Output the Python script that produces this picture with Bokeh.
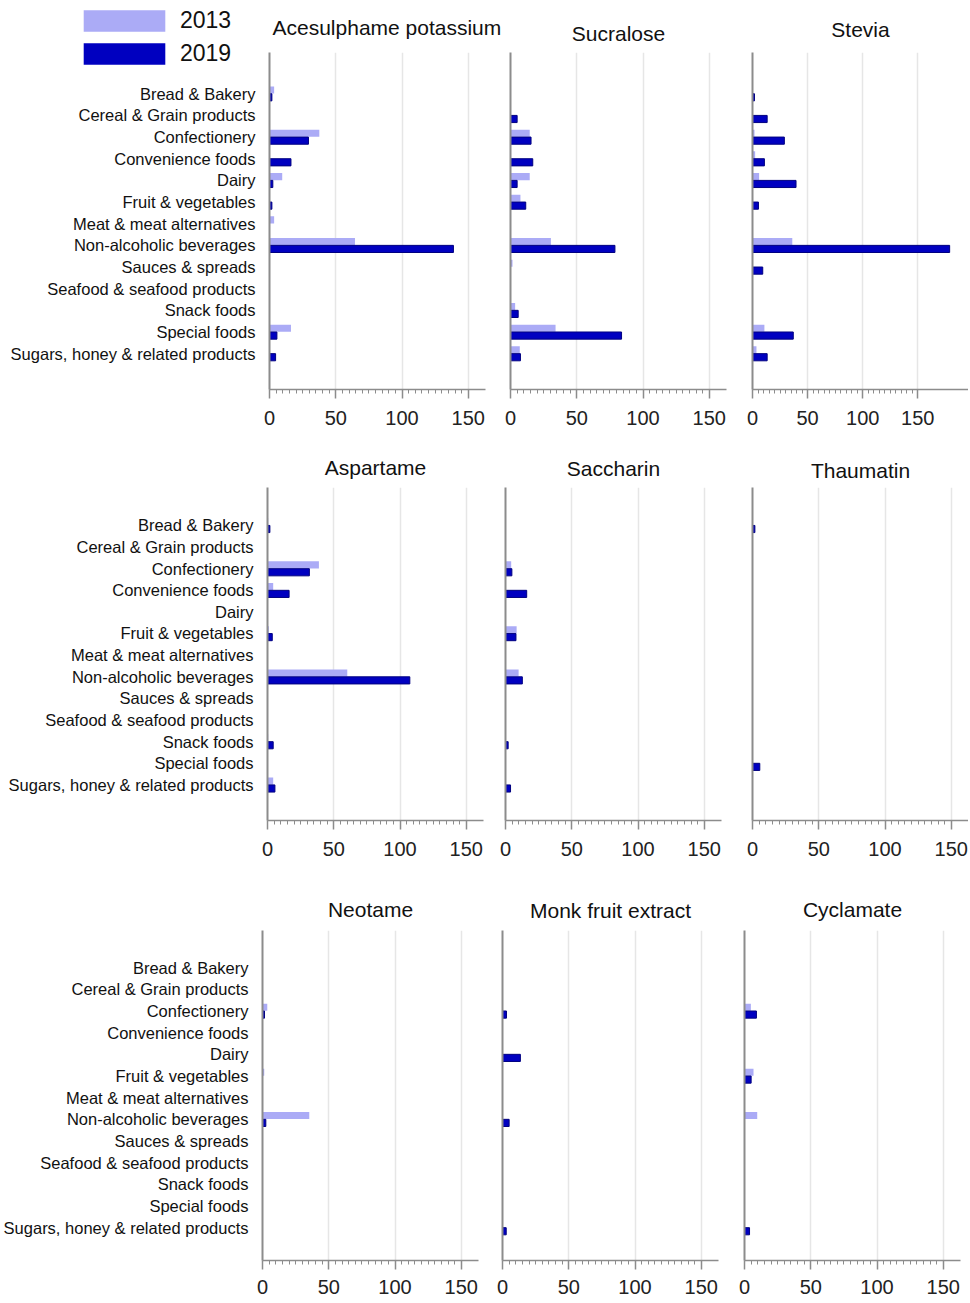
from bokeh.plotting import figure
from bokeh.layouts import column, row
from bokeh.models import FixedTicker, Legend, LegendItem, ColumnDataSource
from bokeh.transform import dodge
from bokeh.embed import file_html
from bokeh.resources import INLINE

categories = ["Bread & Bakery", "Cereal & Grain products", "Confectionery", "Convenience foods",
              "Dairy", "Fruit & vegetables", "Meat & meat alternatives", "Non-alcoholic beverages",
              "Sauces & spreads", "Seafood & seafood products", "Snack foods", "Special foods",
              "Sugars, honey & related products"]
years = ["2013", "2019"]
sweeteners = ["Acesulphame potassium", "Sucralose", "Stevia",
              "Aspartame", "Saccharin", "Thaumatin",
              "Neotame", "Monk fruit extract", "Cyclamate"]

acesulphame_2013 = [3.5, 0, 37.6, 0, 9.6, 0, 3.5, 64.5, 0, 0, 0, 16.2, 0]
acesulphame_2019 = [1.8, 0, 29.4, 16.2, 2.5, 1.8, 0, 138.8, 0, 0, 0, 5.6, 4.6]
sucralose_2013 = [0, 0, 14.5, 0, 14.5, 7.5, 0, 30.5, 1.5, 0, 3.5, 34, 7]
sucralose_2019 = [0, 5, 15.5, 16.8, 5, 11.5, 0, 78.8, 0, 0, 5.8, 83.8, 7.5]
stevia_2013 = [0, 0, 1.8, 2.4, 6, 0, 0, 36.1, 0, 0, 0, 10.8, 3.6]
stevia_2019 = [1.8, 13.3, 28.9, 10.8, 39.5, 5.4, 0, 178.9, 9.3, 0, 0, 37, 13.3]
aspartame_2013 = [0.5, 0, 38.8, 4.3, 0, 1, 0, 60.2, 0, 0, 0.5, 0, 4.3]
aspartame_2019 = [1.8, 0, 31.6, 16.3, 0, 3.6, 0, 107.4, 0, 0, 4.3, 0, 5.6]
saccharin_2013 = [0, 0, 4.3, 0, 0, 8.4, 0, 9.9, 0, 0, 0, 0, 0]
saccharin_2019 = [0, 0, 4.8, 16, 0, 7.9, 0, 12.7, 0, 0, 2, 0, 3.8]
thaumatin_2013 = [0, 0, 0, 0, 0, 0, 0, 0, 0, 0, 0, 0, 0]
thaumatin_2019 = [1.8, 0, 0, 0, 0, 0, 0, 0, 0, 0, 0, 5.5, 0]
neotame_2013 = [0, 0, 3.6, 0, 0, 1.3, 0, 35.3, 0, 0, 0, 0, 0]
neotame_2019 = [0, 0, 1.5, 0, 0, 0, 0, 2.5, 0, 0, 0, 0, 0]
monk_2013 = [0, 0, 0, 0, 0, 0, 0, 0, 0, 0, 0, 0, 0]
monk_2019 = [0, 0, 3, 0, 13.5, 0, 0, 5, 0, 0, 0, 0, 2.8]
cyclamate_2013 = [0, 0, 4.8, 0, 0, 6.8, 0, 9.6, 0, 0, 0, 0, 0]
cyclamate_2019 = [0, 0, 9, 0, 0, 5, 0, 0, 0, 0, 0, 0, 3.8]

values_2013 = [acesulphame_2013, sucralose_2013, stevia_2013, aspartame_2013, saccharin_2013,
               thaumatin_2013, neotame_2013, monk_2013, cyclamate_2013]
values_2019 = [acesulphame_2019, sucralose_2019, stevia_2019, aspartame_2019, saccharin_2019,
               thaumatin_2019, neotame_2019, monk_2019, cyclamate_2019]

x_ticks = [0, 50, 100, 150]
x_minor_ticks = list(range(0, 155, 5))
grid_ticks = [50, 100, 150]
x_max = [163, 163, 196, 163, 163, 163, 163, 163, 163]

COL_2013 = "#ababf6"
COL_2019 = "#0000c0"
AXIS_COL = "#8c8c8c"
FONT = "Liberation Sans"

n = len(categories)
positions = [n - 1 - i for i in range(n)]   # Bread at top

row_cfg = [
    dict(h=435, top=52, bottom=46, lefts=[269, 510, 752], yr=(-1.66, 13.9),
         standoff=[27, 16, 23], lstand=12, bounds=[0, 504, 735, 968]),
    dict(h=431, top=52, bottom=46, lefts=[267, 505, 752], yr=(-1.65, 13.75),
         standoff=[18, 15, 12], lstand=12, bounds=[0, 492, 735, 968]),
    dict(h=436, top=64, bottom=42, lefts=[262, 502, 744], yr=(-1.52, 13.71),
         standoff=[20, 18, 20], lstand=10, bounds=[0, 492, 735, 968]),
]
frame_w = 216

rows = []
first_src = None
for r in range(3):
    cfg = row_cfg[r]
    bounds = cfg["bounds"]
    figs = []
    for c in range(3):
        k = r * 3 + c
        fig_w = bounds[c + 1] - bounds[c]
        left_b = cfg["lefts"][c] - bounds[c]
        right_b = max(fig_w - left_b - frame_w, 0)
        p = figure(width=fig_w, height=cfg["h"], output_backend="svg", toolbar_location=None,
                   x_range=(0, x_max[k]), y_range=cfg["yr"],
                   min_border_left=left_b, min_border_right=right_b,
                   min_border_top=cfg["top"], min_border_bottom=cfg["bottom"],
                   title=sweeteners[k])
        p.outline_line_color = None
        p.title.text_font = FONT
        p.title.text_font_size = "21px"
        p.title.text_font_style = "normal"
        p.title.text_color = "#111111"
        p.title.standoff = cfg["standoff"][c]
        if k == 0:
            p.title.align = "left"
            p.title.offset = 3
        else:
            p.title.align = "center"

        src = ColumnDataSource(dict(pos=positions, v13=values_2013[k], v19=values_2019[k]))
        if k == 0:
            first_src = src
        p.hbar(y=dodge("pos", 0.17, range=p.y_range), right="v13", left=0, height=0.33,
               fill_color=COL_2013, line_color=None, source=src)
        p.hbar(y=dodge("pos", -0.17, range=p.y_range), right="v19", left=0, height=0.33,
               fill_color=COL_2019, line_color="#000080", line_width=1, source=src)

        xa = p.xaxis[0]
        xa.ticker = FixedTicker(ticks=x_ticks, minor_ticks=x_minor_ticks)
        xa.axis_line_color = AXIS_COL
        xa.axis_line_width = 1.5
        xa.major_tick_line_color = AXIS_COL
        xa.major_tick_line_width = 1.5
        xa.major_tick_out = 9
        xa.major_tick_in = 0
        xa.minor_tick_line_color = AXIS_COL
        xa.minor_tick_out = 4
        xa.minor_tick_in = 0
        xa.major_label_text_font = FONT
        xa.major_label_text_font_size = "20px"
        xa.major_label_text_color = "#222222"
        xa.major_label_standoff = cfg["lstand"]

        ya = p.yaxis[0]
        ya.axis_line_color = AXIS_COL
        ya.axis_line_width = 2
        ya.major_tick_line_color = None
        ya.minor_tick_line_color = None
        if c == 0:
            ya.ticker = FixedTicker(ticks=positions, minor_ticks=[])
            ya.major_label_overrides = {positions[i]: categories[i] for i in range(n)}
            ya.major_label_text_font = FONT
            ya.major_label_text_font_size = "16.5px"
            ya.major_label_text_color = "#111111"
            ya.major_label_standoff = 8
        else:
            ya.ticker = FixedTicker(ticks=[], minor_ticks=[])
            ya.major_label_standoff = 0

        p.xgrid.ticker = FixedTicker(ticks=grid_ticks, minor_ticks=[])
        p.xgrid.grid_line_color = "#e6e6e6"
        p.xgrid.grid_line_width = 1.5
        p.ygrid.grid_line_color = None
        figs.append(p)
    rows.append(row(*figs))

# Legend in its own small transparent figure, laid over the top-left corner.
# Its proxy renderers use the first panel's data but lie outside this figure's view.
lf = figure(width=170, height=62, output_backend="svg", toolbar_location=None,
            x_range=(1000, 1001), y_range=(1000, 1001),
            x_axis_location=None, y_axis_location=None,
            min_border=0, min_border_left=0, min_border_right=0, min_border_top=0,
            min_border_bottom=0,
            styles={"position": "absolute", "left": "73px", "top": "7px", "z-index": "10"})
lf.outline_line_color = None
lf.background_fill_color = None
lf.border_fill_color = None
lf.grid.visible = False
lr13 = lf.hbar(y="pos", right="v13", left=0, height=0.33, fill_color=COL_2013,
               line_color=None, source=first_src)
lr19 = lf.hbar(y="pos", right="v19", left=0, height=0.33, fill_color=COL_2019,
               line_color=None, source=first_src)
legend = Legend(items=[LegendItem(label=years[0], renderers=[lr13]),
                       LegendItem(label=years[1], renderers=[lr19])],
                location="top_left", orientation="vertical")
legend.glyph_width = 102
legend.glyph_height = 27
legend.label_height = 27
legend.label_text_font = FONT
legend.label_text_font_size = "23px"
legend.label_text_color = "#111111"
legend.label_standoff = 5
legend.spacing = 6
legend.padding = 0
legend.margin = 0
legend.border_line_color = None
legend.background_fill_alpha = 0
lf.add_layout(legend, "center")

layout = column(*rows, lf)
open("out.html", "w").write(file_html(layout, INLINE))
